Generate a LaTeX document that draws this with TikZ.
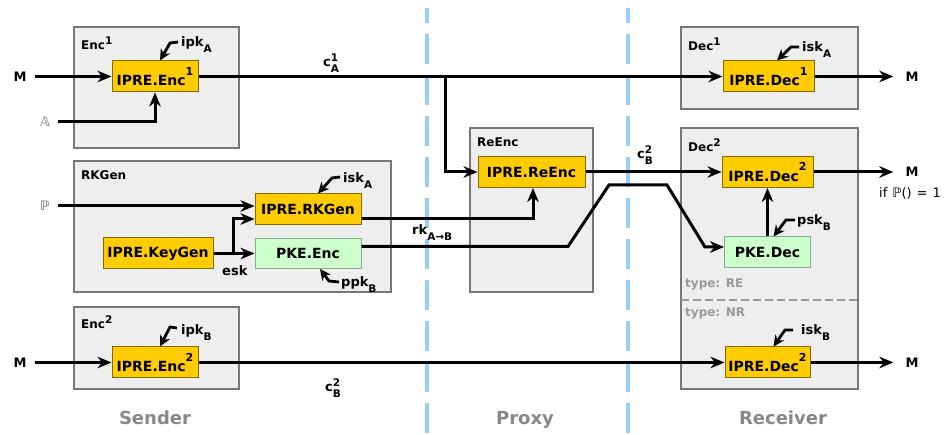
\documentclass[tikz,border=0pt]{standalone}
\usepackage{fontspec}
\setmainfont{DejaVu Sans}
\usetikzlibrary{arrows.meta}
\definecolor{iprefill}{HTML}{FFCC00}
\definecolor{ipreline}{HTML}{806A10}
\definecolor{pkefill}{HTML}{CCFFCC}
\definecolor{pkeline}{HTML}{88AA88}
\definecolor{framefill}{HTML}{EEEEEE}
\definecolor{frameline}{HTML}{777777}
\definecolor{sepblue}{HTML}{99CCFF}
\definecolor{typegray}{HTML}{999999}
\definecolor{rolegray}{HTML}{888888}
\newcommand{\supx}[1]{\raisebox{5pt}{\fontsize{10.5}{10}\selectfont #1}}
\newcommand{\subx}[1]{\raisebox{-5.5pt}{\fontsize{10.5}{10}\selectfont #1}}
\newcommand{\supbox}[1]{\raisebox{10.5pt}{\fontsize{11}{10}\selectfont #1}}
\newcommand{\supsubx}[2]{\rlap{\supx{#1}}\subx{#2}}

\begin{document}
\begin{tikzpicture}[x=1pt,y=-1pt,
  frame/.style={draw=frameline,fill=framefill,line width=1.3pt},
  ipre/.style={draw=ipreline,fill=iprefill,line width=1pt,minimum height=31pt,inner sep=0pt,font=\bfseries\fontsize{14}{16}\selectfont},
  pke/.style={ipre,draw=pkeline,fill=pkefill},
  arr/.style={line width=3pt,-{Stealth[length=14pt,width=11.5pt,inset=4.5pt]}},
  hook/.style={line width=2.8pt,-{Stealth[length=11pt,width=10.5pt,inset=3.5pt]}},
  lbl/.style={anchor=base west,inner sep=0pt,font=\bfseries\fontsize{13}{15}\selectfont},
  ttl/.style={anchor=base west,inner sep=0pt,font=\bfseries\fontsize{12}{14}\selectfont},
  typ/.style={anchor=base west,inner sep=0pt,text=typegray,font=\bfseries\fontsize{12}{14}\selectfont},
  role/.style={text=rolegray,font=\bfseries\fontsize{18}{20}\selectfont},
  io/.style={font=\bfseries\fontsize{13}{15}\selectfont,inner xsep=8pt}]
\useasboundingbox (0,0) rectangle (946,435);

% sender | proxy | receiver
\foreach \x in {427,628}{\draw[sepblue,line width=4pt,dash pattern=on 30pt off 11pt,dash phase=15pt] (\x,8) -- (\x,435);}
\node[role] (sender) at (155,418) {Sender};
\node[role] (proxy) at (525,420) {Proxy};
\node[role] (receiver) at (783,418) {Receiver};

\foreach \a/\b/\c/\d in {74/27/239/148,74/161/391/292,74/307/239/389,470/128/593/292,681/27/858/109,681/128/858/389}{\draw[frame] (\a,\b) rectangle (\c,\d);}
\draw[typegray,line width=1.5pt,dash pattern=on 8pt off 4pt] (681,300) -- (858,300);
\node[ttl] (tenc1) at (81,50) {Enc\supx{1}};
\node[ttl] (trkgen) at (81,180) {RKGen};
\node[ttl] (tenc2) at (81,329) {Enc\supx{2}};
\node[ttl] (treenc) at (477,147) {ReEnc};
\node[ttl] (tdec1) at (688,51) {Dec\supx{1}};
\node[ttl] (tdec2) at (688,152) {Dec\supx{2}};
\node[typ] (tre) at (685,288) {type: RE};
\node[typ] (tnr) at (685,317) {type: NR};

\node[ipre,minimum width=86pt] (enc1) at (155,76.5) {IPRE.Enc\supbox{1}};
\node[ipre,minimum width=106pt] (rkgen) at (308,209.5) {IPRE.RKGen};
\node[ipre,minimum width=110pt] (keygen) at (158,253.5) {IPRE.KeyGen};
\node[pke,minimum width=106pt,minimum height=30pt] (pkeenc) at (308,253.5) {PKE.Enc};
\node[ipre,minimum width=86pt] (enc2) at (155,362.5) {IPRE.Enc\supbox{2}};
\node[ipre,minimum width=107pt] (reenc) at (531.5,172) {IPRE.ReEnc};
\node[ipre,minimum width=91pt] (dec1) at (768.5,76.5) {IPRE.Dec\supbox{1}};
\node[ipre,minimum width=91pt] (dec2a) at (767.5,172) {IPRE.Dec\supbox{2}};
\node[pke,minimum width=86pt] (pkedec) at (767.5,252.5) {PKE.Dec};
\node[ipre,minimum width=85pt] (dec2b) at (767.5,362.5) {IPRE.Dec\supbox{2}};

\node[io] (m1) at (20,76.5) {M};
\node[io] (m2) at (20,362.5) {M};
\node[io,text=gray] (setA) at (45,122) {𝔸};
\node[io,text=gray] (setP) at (45,206) {ℙ};
\node[io,inner xsep=12pt] (mo1) at (912,76.5) {M};
\node[io,inner xsep=12pt] (mo2) at (912,172) {M};
\node[io,inner xsep=12pt] (mo3) at (912,362.5) {M};
\node[anchor=base west,inner sep=0pt,font=\fontsize{13}{15}\selectfont] (cond) at (879,198) {\spaceskip=5pt if ℙ() = 1};

\node[lbl] (ipkA) at (181,47) {ipk\subx{A}};
\node[lbl] (iskA) at (343,183) {isk\subx{A}};
\node[lbl] (ppkB) at (341,287) {ppk\subx{B}};
\node[lbl] (ipkB) at (181,335) {ipk\subx{B}};
\node[lbl] (iskAr) at (802,52) {isk\subx{A}};
\node[lbl] (pskB) at (797,225) {psk\subx{B}};
\node[lbl] (iskB) at (801,335) {isk\subx{B}};
\node[lbl] (esk) at (222,276) {esk};
\node[lbl] (rkAB) at (412,235) {rk\subx{A→B}};
\node[lbl] (cA1) at (323,67) {c\supsubx{1}{A}};
\node[lbl] (cB2) at (637,159) {c\supsubx{2}{B}};
\node[lbl] (cB2b) at (325,392) {c\supsubx{2}{B}};

% ciphertexts
\coordinate (fork) at (445,76.5);
\coordinate (eskfork) at (233,253.5);
\draw[arr] (m1.east) -- (enc1.west);
\draw[arr] (setA.east) -| (enc1.south);
\draw[arr] (enc1.east) -- (dec1.west);
\draw[arr] (fork) |- (reenc.west);
\draw[arr] (m2.east) -- (enc2.west);
\draw[arr] (enc2.east) -- (dec2b.west);
% re-encryption key
\draw[arr] (setP.east) -- ([yshift=3.5pt]rkgen.west);
\draw[arr] (keygen.east) -- (pkeenc.west);
\draw[arr] (eskfork) |- ([yshift=-9.5pt]rkgen.west);
\draw[arr] ([yshift=-9.5pt]rkgen.east) -| ([xshift=1.5pt]reenc.south);
\draw[arr] ([yshift=7pt]pkeenc.east) -- (568,246.5) -- (609,185) -- (667,185) -- (705,247) -- ([yshift=5.5pt]pkedec.west);
\draw[arr] (reenc.east) -- (dec2a.west);
\draw[arr] (pkedec.north) -- (dec2a.south);
\draw[arr] (dec1.east) -- (mo1.west);
\draw[arr] (dec2a.east) -- (mo2.west);
\draw[arr] (dec2b.east) -- (mo3.west);
% keys
\draw[hook] ([xshift=-3pt,yshift=5pt]ipkA.base west) -- ++(-8,1) -- ([xshift=5pt]enc1.north);
\draw[hook] ([xshift=-3pt,yshift=6pt]iskA.base west) -- ++(-8,1) -- ([xshift=10pt]rkgen.north);
\draw[hook] ([xshift=-2pt,yshift=5pt]ppkB.base west) -- ++(-10,-1) -- ([xshift=12pt]pkeenc.south);
\draw[hook] ([xshift=-4pt,yshift=7pt]ipkB.base west) -- ++(-7,-1) -- ([xshift=5pt]enc2.north);
\draw[hook] ([xshift=-3pt,yshift=5pt]iskAr.base west) -- ++(-8,0) -- ([xshift=8.5pt]dec1.north);
\draw[hook] ([xshift=-2pt,yshift=5pt]pskB.base west) -- ++(-9,0) -- ([xshift=6pt]pkedec.north);
\draw[hook] ([xshift=-8pt,yshift=5pt]iskB.base west) -- ++(-8,0) -- ([xshift=6pt]dec2b.north);
\end{tikzpicture}
\end{document}
